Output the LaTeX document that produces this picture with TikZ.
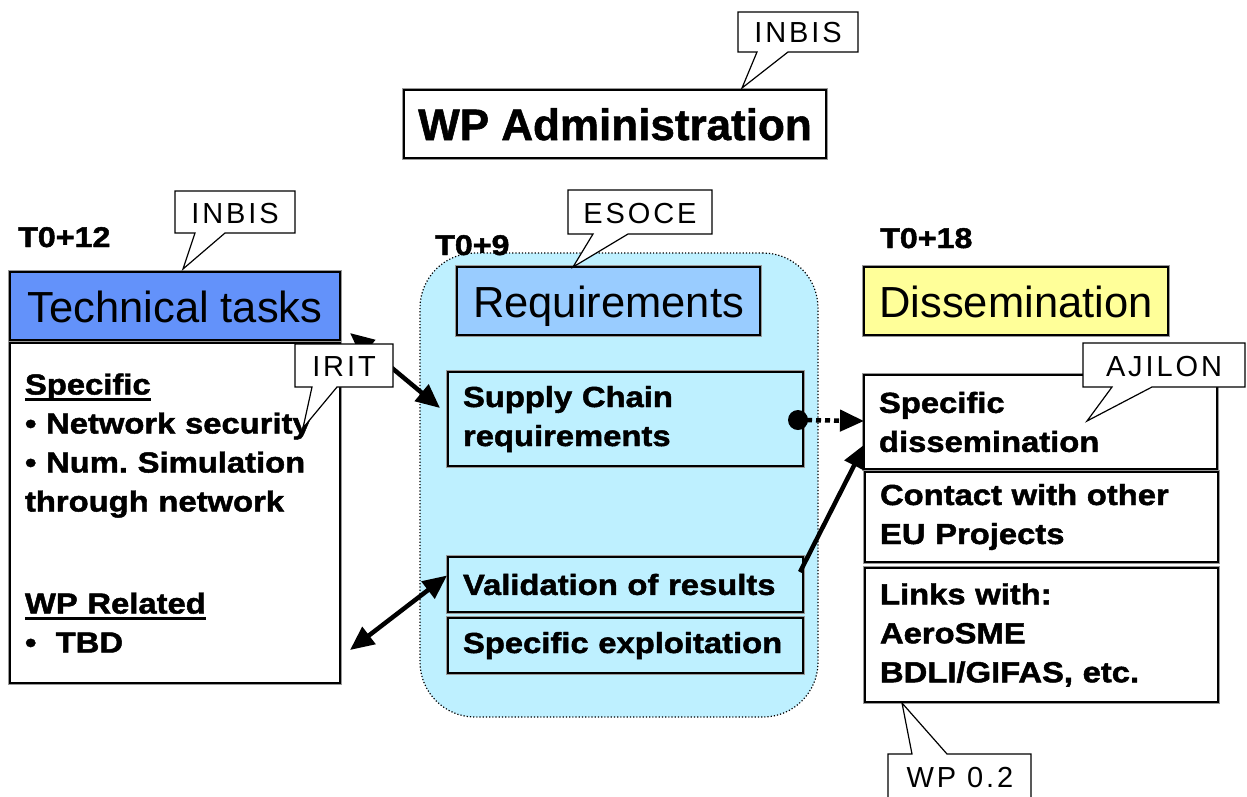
\documentclass[tikz,border=0pt]{standalone}
\usepackage{fontspec}
\setmainfont{Liberation Sans}
\newfontfamily\callfont[LetterSpace=10]{Liberation Sans}
\newfontfamily\cfont[FakeStretch=1.13,FakeBold=1.6]{Liberation Sans Bold}
\newfontfamily\adminfont[FakeBold=1.2]{Liberation Sans Bold}
\usetikzlibrary{arrows.meta,calc}
\definecolor{techblue}{RGB}{99,146,250}
\definecolor{reqblue}{RGB}{153,204,255}
\definecolor{dissyellow}{RGB}{255,255,153}
\definecolor{cyanbg}{RGB}{190,240,255}
\newcommand\myul[1]{\leavevmode\setbox0\hbox{#1}\rlap{\rule[-6pt]{\wd0}{3pt}}\box0}
\begin{document}
\begin{tikzpicture}[x=1pt,y=-1pt,
  bx/.style={draw=black,line width=2.4pt,preaction={draw=black!40,line width=4.4pt},inner sep=0pt,outer sep=0pt},
  titlebox/.style={bx,font=\fontsize{43.5}{48}\selectfont,text height=32pt,text depth=0pt,minimum height=68pt},
  content/.style={bx,font=\cfont\fontsize{29}{39}\selectfont\frenchspacing,align=left,inner xsep=15pt,inner ysep=0pt},
  tlabel/.style={font=\cfont\fontsize{28.5}{32}\selectfont,anchor=base west,inner sep=0pt},
  callout/.style={draw=black,line width=1.2pt,fill=white},
  calltext/.style={font=\callfont\fontsize{29}{32}\selectfont,inner sep=0pt},
  link/.style={line width=4.5pt,draw=black},
  bigtri/.tip={Triangle[length=24pt,width=21pt]},
]
\clip (0,0) rectangle (1247,796);
\fill[white] (0,0) rectangle (1247,796);

% phase region
\node[draw=black,dotted,line width=1.2pt,fill=cyanbg,rounded corners=55pt,
      minimum width=398pt,minimum height=464pt,inner sep=0pt] (phase) at (619,485) {};

% title boxes
\node[titlebox,font=\adminfont\fontsize{44}{48}\selectfont,fill=white,minimum width=422pt] (admin) at (615,124) {WP Administration};
\node[titlebox,fill=techblue,minimum width=330pt] (tech) at (175,306) {Technical tasks};
\node[titlebox,fill=reqblue,minimum width=303pt] (req) at (608.5,301) {Requirements};
\node[titlebox,fill=dissyellow,minimum width=304pt] (diss) at (1016,301) {Dissemination};

% content boxes
\node[content,fill=white,text width=300pt,minimum height=340pt] (techbody) at (175,513)
  {\myul{Specific}\\• Network security\\• Num. Simulation\\through network\\[63pt]\myul{WP Related}\\•\ \ TBD};
\node[content,fill=cyanbg,text width=325pt,minimum height=94pt] (supply) at (625.5,419) {Supply Chain\\requirements};
\node[content,fill=cyanbg,text width=325pt,minimum height=55pt] (valid) at (625.5,584.5) {Validation of results};
\node[content,fill=cyanbg,text width=325pt,minimum height=55pt] (exploit) at (625.5,645.5) {Specific exploitation};
\node[content,fill=white,text width=323pt,minimum height=94pt] (specdiss) at (1040.5,422) {Specific\\dissemination};
\node[content,fill=white,text width=323pt,minimum height=90pt] (contact) at (1041.5,517) {Contact with other\\EU Projects};
\node[content,fill=white,text width=323pt,minimum height=134pt] (links) at (1041.5,635) {Links with:\\AeroSME\\BDLI/GIFAS, etc.};

% time labels
\node[tlabel] (t12) at (18,247) {T0+12};
\node[tlabel] (t9) at (435,255) {T0+9};
\node[tlabel] (t18) at (880,248) {T0+18};

% connectors
\draw[link,{bigtri}-{bigtri}] ($(tech.south east)+(10,-7)$) -- ($(supply.west)+(-8,-11)$);
\draw[link,{bigtri}-{bigtri}] ($(techbody.south east)+(10,-33)$) -- ($(valid.west)+(-1,-9)$);
\draw[link,-{bigtri}] ($(valid.north east)+(-3,15)$) -- ($(specdiss.south west)+(1,-25)$);
\fill ($(supply.east)+(-5,1)$) circle[radius=10pt];
\draw[link,dash pattern=on 5pt off 4pt,-{bigtri}] ($(supply.east)+(-5,1)$) -- ($(specdiss.west)+(0,-1)$);

% callouts
\draw[callout] (738,12) -- (858,12) -- (858,52) -- (788,52) -- (742,88) -- (757,52) -- (738,52) -- cycle;
\node[calltext] (cadmin) at (798,33) {INBIS};
\draw[callout] (175,191) -- (295,191) -- (295,233) -- (225,233) -- (183,269) -- (195,233) -- (175,233) -- cycle;
\node[calltext] (ctech) at (235,214) {INBIS};
\draw[callout] (568,190) -- (712,190) -- (712,234) -- (628,234) -- (573,267) -- (593,234) -- (568,234) -- cycle;
\node[calltext] (creq) at (640,214) {ESOCE};
\draw[callout] (295,344) -- (393,344) -- (393,387) -- (337,387) -- (303,428) -- (312,387) -- (295,387) -- cycle;
\node[calltext] (cirit) at (344,367) {IRIT};
\draw[callout] (1083,343) -- (1245,343) -- (1245,387) -- (1152,387) -- (1087,421) -- (1112,387) -- (1083,387) -- cycle;
\node[calltext] (cajilon) at (1164,367) {AJILON};
\draw[callout] (888,754) -- (912,754) -- (902,703) -- (947,754) -- (1031,754) -- (1031,810) -- (888,810) -- cycle;
\node[calltext] (cwp) at (960,778) {WP 0.2};
\end{tikzpicture}
\end{document}
